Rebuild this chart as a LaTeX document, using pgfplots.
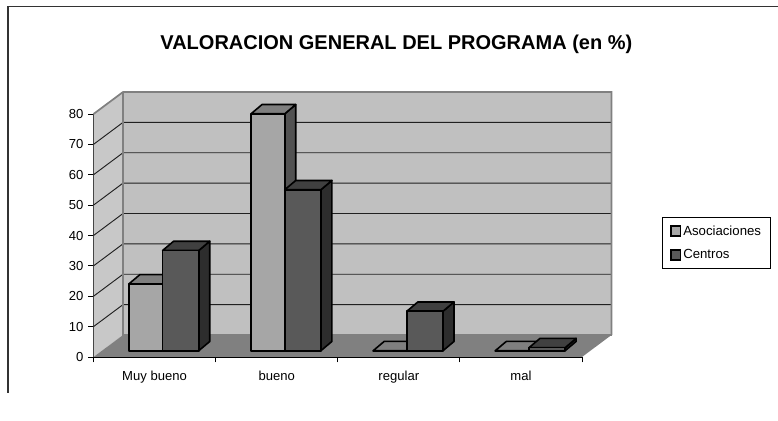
\documentclass[border=0pt]{standalone}
\usepackage{pgfplots}
\usepackage{fontspec}
\setmainfont{Liberation Sans}
\pgfplotsset{compat=1.18}

\definecolor{wallback}{HTML}{C0C0C0}
\definecolor{wallleft}{HTML}{C8C8C8}
\definecolor{wallline}{HTML}{808080}
\definecolor{floorc}{HTML}{808080}
\definecolor{gridc}{HTML}{202020}
\definecolor{asocF}{HTML}{A6A6A6}
\definecolor{asocT}{HTML}{7F7F7F}
\definecolor{asocS}{HTML}{525252}
\definecolor{centF}{HTML}{595959}
\definecolor{centT}{HTML}{404040}
\definecolor{centS}{HTML}{2D2D2D}

% depth of the chart box, and of a bar, in data units
\def\wdx{0.2416}
\def\wdy{7.24}
\def\bdx{0.09}
\def\bdy{3.05}
\def\bbase{2.07}

% #1 x left, #2 x right, #3 value, #4 #5 #6 front, top and side colours
\newcommand{\threedbar}[6]{%
  \pgfmathsetmacro{\ya}{\bbase}%
  \pgfmathsetmacro{\yb}{\bbase+#3}%
  \pgfmathsetmacro{\yc}{\yb+\bdy}%
  \pgfmathsetmacro{\yd}{\ya+\bdy}%
  \pgfmathsetmacro{\xb}{#1+\bdx}%
  \pgfmathsetmacro{\xc}{#2+\bdx}%
  \addplot[forget plot, draw=black, line width=1.2pt, line join=round, fill=#6]
    coordinates {(#2,\ya)(\xc,\yd)(\xc,\yc)(#2,\yb)} --cycle;
  \addplot[forget plot, draw=black, line width=1.2pt, line join=round, fill=#5]
    coordinates {(#1,\yb)(#2,\yb)(\xc,\yc)(\xb,\yc)} --cycle;
  \addplot[forget plot, draw=black, line width=1.2pt, line join=round, fill=#4]
    coordinates {(#1,\ya)(#2,\ya)(#2,\yb)(#1,\yb)} --cycle;
}

\begin{document}
\begin{tikzpicture}
\useasboundingbox (0,0) rectangle (583.5pt,315.75pt);
\begin{axis}[
  at={(70.125pt,48pt)}, anchor=south west,
  scale only axis, width=366.375pt, height=182.25pt,
  xmin=0, xmax=4, ymin=0, ymax=80,
  clip=false,
  axis lines*=left, axis line style={-, black, line width=0.7pt},
  xtick={0,1,2,3,4},
  xticklabels={Muy bueno,bueno,regular,mal},
  x tick label as interval,
  ytick={0,10,...,80},
  tick align=outside, major tick length=4pt,
  tick style={black, line width=0.7pt},
  tick label style={font=\fontsize{9.8}{11}\selectfont},
  xticklabel style={yshift=-3pt},
  /pgf/number format/assume math mode=true,
  title={\textbf{VALORACION GENERAL DEL PROGRAMA (en \%)}},
  title style={font=\fontsize{15}{17}\selectfont, at={(axis description cs:0.62,1.255)}, anchor=center},
  legend style={at={(axis description cs:1.1638,0.576)}, anchor=north west,
    draw=black, line width=0.7pt, fill=white, font=\fontsize{9.9}{11}\selectfont,
    inner xsep=6pt, inner ysep=5pt, row sep=7.5pt,
    nodes={inner sep=1pt}},
  legend cell align=left,
  legend image code/.code={\draw[#1] (0pt,-3.4pt) rectangle (7pt,3.8pt); \path[draw=none,fill=none] (0pt,0pt) -- (8pt,0pt);},
]
\addlegendimage{draw=black, line width=1.2pt, fill=asocF}
\addlegendentry{Asociaciones}
\addlegendimage{draw=black, line width=1.2pt, fill=centF}
\addlegendentry{Centros}

% walls and floor
\addplot[forget plot, draw=none, fill=wallleft]
  coordinates {(0,0)(0,80)(\wdx,87.24)(\wdx,7.24)} --cycle;
\addplot[forget plot, draw=none, fill=wallback]
  coordinates {(\wdx,7.24)(4.2416,7.24)(4.2416,87.24)(\wdx,87.24)} --cycle;
\addplot[forget plot, draw=none, fill=floorc]
  coordinates {(0,0)(4,0)(4.2416,7.24)(\wdx,7.24)} --cycle;

% grid on the two walls
\pgfplotsinvokeforeach{10,20,...,70}{
  \pgfmathsetmacro{\gy}{#1+\wdy}
  \addplot[forget plot, draw=gridc, line width=0.7pt]
    coordinates {(0,#1)(\wdx,\gy)(4.2416,\gy)};
}
\addplot[forget plot, draw=wallline, line width=1.3pt]
  coordinates {(0,80)(\wdx,87.24)(4.2416,87.24)(4.2416,7.24)};
\addplot[forget plot, draw=wallline, line width=1.3pt]
  coordinates {(\wdx,87.24)(\wdx,7.24)(4.2416,7.24)};

% bars
\threedbar{0.29}{0.566}{22}{asocF}{asocT}{asocS}
\threedbar{0.566}{0.862}{33}{centF}{centT}{centS}
\threedbar{1.29}{1.566}{78}{asocF}{asocT}{asocS}
\threedbar{1.566}{1.862}{53}{centF}{centT}{centS}
\threedbar{2.29}{2.566}{0}{asocF}{asocT}{asocS}
\threedbar{2.566}{2.862}{13}{centF}{centT}{centS}
\threedbar{3.29}{3.566}{0}{asocF}{asocT}{asocS}
\threedbar{3.566}{3.862}{1}{centF}{centT}{centS}
\end{axis}
% chart frame, open at the right and at the bottom
\draw[line width=0.8pt, black!80] (6pt,21pt) -- (6pt,311pt) -- (583.5pt,311pt);
\end{tikzpicture}
\end{document}
